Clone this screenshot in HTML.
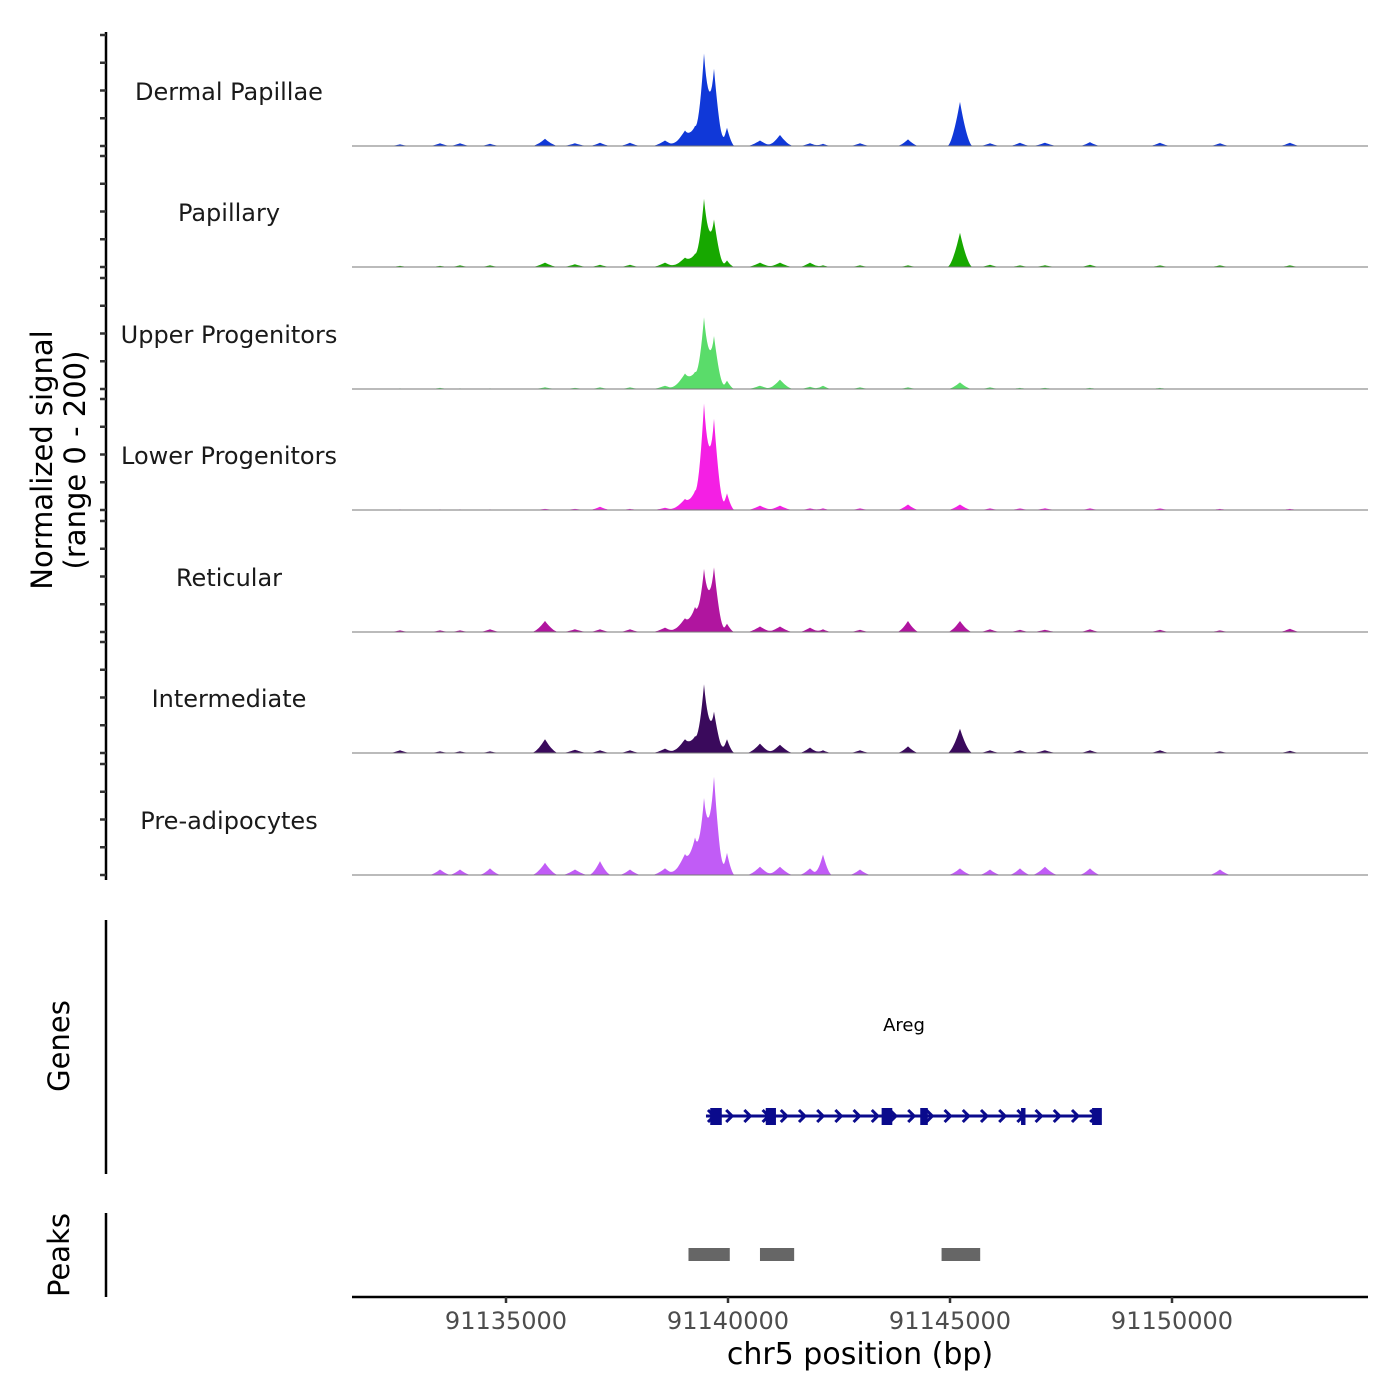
<!DOCTYPE html>
<html><head><meta charset="utf-8"><style>
html,body{margin:0;padding:0;background:#fff}
svg{display:block;font-family:"DejaVu Sans","Liberation Sans",sans-serif}
</style></head><body>
<svg id="chart" width="1400" height="1400" viewBox="0 0 1400 1400"></svg>
<script>
const trackNames = ["Dermal Papillae","Papillary","Upper Progenitors","Lower Progenitors","Reticular","Intermediate","Pre-adipocytes"];
const trackColors = ["#1038d8","#17a800","#5adc6a","#f41fe4","#b0159f","#3a0a5c","#c15cf6"];
const peakPos = [91132613,91133514,91133964,91134640,91135878,91136554,91137117,91137792,91138581,91139031,91139256,91139459,91139684,91139977,91140720,91141170,91141846,91142139,91142972,91144053,91145224,91145900,91146575,91147138,91148152,91149728,91151079,91152655];
const peakHalfWidth = [250,250,250,250,300,300,250,250,300,350,220,210,240,170,300,300,250,200,250,250,280,250,250,300,250,250,250,250];
const valsDP  = [3,5,5,4,13,5,6,6,10,28,30,165,140,33,10,20,5,4,5,12,80,5,6,6,7,6,5,6];
const valsPap = [2,2,3,3,8,5,4,4,8,17,20,122,86,12,8,8,8,3,3,3,62,4,3,3,4,3,3,3];
const valsUp  = [1,2,1,1,3,2,3,3,6,28,25,128,96,15,6,17,4,6,3,3,12,3,2,2,2,2,1,1];
const valsLow = [1,1,1,1,2,2,6,2,4,20,30,190,165,30,8,8,3,3,3,10,10,3,3,3,3,3,2,2];
const valsRet = [3,3,3,5,20,5,5,5,8,25,40,112,117,15,10,10,8,5,4,20,20,5,4,4,5,4,3,6];
const valsInt = [5,3,3,3,25,6,5,5,8,25,25,123,75,25,17,15,10,5,5,12,44,5,5,5,5,5,3,4];
const valsPre = [0,10,10,12,22,10,25,10,12,38,60,136,178,40,15,15,12,37,10,0,12,10,12,15,12,0,10,0];
const trackVals = [valsDP,valsPap,valsUp,valsLow,valsRet,valsInt,valsPre];
const xTicks = [91135000,91140000,91145000,91150000];
const geneName = "Areg";
const geneStart = 91139504, geneEnd = 91148378;
const exonStarts = [91139600,91140850,91143460,91144330,91146600,91148200];
const exonEnds   = [91139860,91141080,91143700,91144500,91146700,91148420];
const peakStarts = [91139110,91140720,91144810];
const peakEnds   = [91140040,91141490,91145680];

const NS="http://www.w3.org/2000/svg";
const svg=document.getElementById('chart');
function mk(tag,attrs,parent){const e=document.createElementNS(NS,tag);for(const k in attrs)e.setAttribute(k,attrs[k]);(parent||svg).appendChild(e);return e;}
const X0=352,X1=1368;
const xs=bp=>506+(bp-91135000)*222/5000;
const bpMin=91135000+(X0-506)*5000/222;
const baselines=[146,267,389,510,632,753,875];
const ys=v=>v/200*111;

const ax=mk('line',{x1:106,y1:32,x2:106,y2:880,stroke:'#000','stroke-width':2.5});


baselines.forEach(b=>{[0,50,100,150,200].forEach(t=>{
  const tk=mk('line',{x1:100,x2:106,y1:b-ys(t),y2:b-ys(t),stroke:'#333','stroke-width':2.5});
  
  
});});
const yt=mk('text',{transform:'translate(52,460) rotate(-90)','text-anchor':'middle','font-size':29,fill:'#000'});


mk('tspan',{x:0,dy:0},yt).textContent='Normalized signal';
mk('tspan',{x:0,dy:33},yt).textContent='(range 0 - 200)';

trackVals.forEach((vals,i)=>{
  const b=baselines[i];
  const g=mk('g',{});
  
  
  let d='M'+X0+','+b;
  for(let px=X0;px<=X1;px+=1){
    const bp=bpMin+(px-X0)*5000/222;
    let s=0;
    for(let k=0;k<peakPos.length;k++){const dd=Math.abs(bp-peakPos[k])/peakHalfWidth[k];if(dd<1)s+=vals[k]*Math.pow(1-dd,1.6);}
    s=Math.min(s,200);
    d+=' L'+px+','+(b-ys(s)).toFixed(1);
  }
  d+=' L'+X1+','+b+' Z';
  const p=mk('path',{d:d,fill:trackColors[i],stroke:'none'},g);
  
  
  const bl=mk('line',{x1:X0,x2:X1,y1:b,y2:b,stroke:'#777','stroke-width':1},g);
  
  
  const lb=mk('text',{x:229,y:b-46,'text-anchor':'middle','font-size':24,fill:'#1a1a1a'},g);
  
  
  lb.textContent=trackNames[i];
});

const ga=mk('line',{x1:106,y1:920,x2:106,y2:1174,stroke:'#000','stroke-width':2.5});


const gt=mk('text',{transform:'translate(69,1046) rotate(-90)','text-anchor':'middle','font-size':29});


gt.textContent='Genes';
const gl=mk('text',{x:904,y:1031,'text-anchor':'middle','font-size':18});


gl.textContent=geneName;
const gc='#0a0a8c';
const gline=mk('line',{x1:xs(geneStart),x2:xs(geneEnd),y1:1116,y2:1116,stroke:gc,'stroke-width':3});


for(let x=xs(geneStart)+2;x<xs(geneEnd);x+=18.2){
  const a=mk('path',{d:`M${x},${1110} L${x+6},${1116} L${x},${1122}`,fill:'none',stroke:gc,'stroke-width':3});
  
  
}
exonStarts.forEach((s,i)=>{
  const r=mk('rect',{x:xs(s),y:1108,width:Math.max(4,xs(exonEnds[i])-xs(s)),height:17,fill:gc});
  
  
});

const pa=mk('line',{x1:106,y1:1213,x2:106,y2:1297,stroke:'#000','stroke-width':2.5});


const pt=mk('text',{transform:'translate(69,1255) rotate(-90)','text-anchor':'middle','font-size':29});


pt.textContent='Peaks';
peakStarts.forEach((s,i)=>{
  const r=mk('rect',{x:xs(s),y:1248,width:xs(peakEnds[i])-xs(s),height:13,fill:'#666'});
  
  
});

const xa=mk('line',{x1:X0,x2:X1,y1:1297,y2:1297,stroke:'#000','stroke-width':2.5});


xTicks.forEach(t=>{
  const tk=mk('line',{x1:xs(t),x2:xs(t),y1:1297,y2:1303,stroke:'#333','stroke-width':2.5});
  
  
  const tl=mk('text',{x:xs(t),y:1329,'text-anchor':'middle','font-size':24,fill:'#4d4d4d'});
  
  
  tl.textContent=t;
});
const xt=mk('text',{x:860,y:1364,'text-anchor':'middle','font-size':30});


xt.textContent='chr5 position (bp)';
</script>
</body></html>
